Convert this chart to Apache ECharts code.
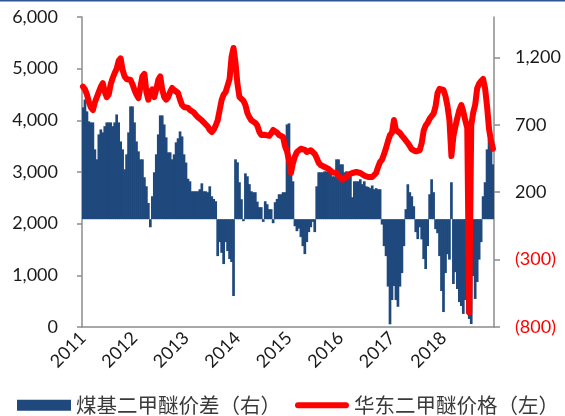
<!DOCTYPE html>
<html>
<head>
<meta charset="utf-8">
<script src="https://cdn.jsdelivr.net/npm/echarts@6/dist/echarts.min.js"></script>
<style>
  html, body { margin: 0; padding: 0; background: #fff; }
  #chart { width: 565px; height: 416px; }
</style>
</head>
<body>
<div id="chart"></div>
<script>
// 年份（每年26个双周点）
const years = ['2011', '2012', '2013', '2014', '2015', '2016', '2017', '2018']
const perYear = 26

// 煤基二甲醚价差（右轴）
const spread = [
  830, 888, 800, 726, 718, 718, 518, 444, 629, 666, 644, 690, 718, 718, 718, 690, 718, 777, 718, 577, 518, 370, 481, 644, 837, 837,
  718, 577, 503, 444, 444, 311, 244, 120, -60, 170, 348, 481, 629, 770, 770, 703, 607, 496, 496, 444, 481, 570, 600, 651, 614, 481,
  420, 300, 281, 207, 207, 207, 207, 222, 266, 207, 207, 200, 244, 170, 150, 133, -274, -170, -250, -333, -170, -237, -296, -318, -570, 444,
  422, 274, 148, -15, 340, 318, 260, 207, 200, 200, 130, 89, 89, -20, 133, 111, 74, 74, -30, 126, 150, 185, 185, 200, 200, 703,
  711, 392, 281, -52, -89, -70, -133, -200, -259, -170, -96, -60, -20, -96, 244, 348, 348, 348, 355, 355, 355, 340, 318, 318, 444, 444,
  407, 407, 348, 355, 340, 355, 163, 281, 281, 281, 296, 260, 281, 244, 240, 230, 250, 222, 230, 222, 222, -40, -200, -274, -500, -780,
  -600, -496, -600, -650, -500, -400, -200, 74, 259, 200, 170, 96, -96, -148, -60, -150, -296, -370, -200, 185, 296, 200, -74, -104, -274, -533,
  -689, -400, -260, -300, 274, -481, -393, -518, -615, -644, -703, -600, -700, -740, -778, -422, -592, -466, -300, -170, 170, 274, 518, 592, 607, 407
]

// 华东二甲醚价格（左轴）
const price = [
  4650, 4600, 4500, 4350, 4250, 4200, 4350, 4450, 4550, 4650, 4720, 4550, 4450, 4500, 4700, 4819, 4916, 5000, 5150, 5200, 4974, 4850, 4800, 4800, 4781, 4700,
  4587, 4500, 4432, 4650, 4850, 4900, 4550, 4400, 4550, 4600, 4450, 4600, 4780, 4850, 4600, 4450, 4400, 4450, 4550, 4626, 4587, 4560, 4529, 4400, 4297, 4258,
  4258, 4240, 4200, 4200, 4150, 4103, 4060, 4045, 4000, 3968, 3920, 3880, 3813, 3774, 3820, 3900, 4000, 4200, 4394, 4500, 4548, 4530, 4800, 5226, 5400, 5110,
  4700, 4450, 4450, 4380, 4297, 4142, 4060, 4000, 3968, 3950, 3900, 3780, 3716, 3716, 3720, 3716, 3700, 3750, 3813, 3790, 3760, 3716, 3700, 3677, 3500, 3400,
  3232, 2981, 3174, 3300, 3387, 3420, 3450, 3484, 3430, 3387, 3400, 3420, 3387, 3350, 3270, 3180, 3135, 3097, 3097, 3097, 3060, 3039, 2990, 2981, 2981, 2920,
  2884, 2850, 2870, 2903, 2950, 2981, 2981, 2990, 3000, 2990, 2981, 2950, 2930, 2903, 2903, 2903, 2903, 2920, 2981, 3100, 3194, 3240, 3350, 3465, 3600, 3716,
  3760, 4006, 3813, 3780, 3755, 3700, 3658, 3620, 3560, 3500, 3440, 3420, 3400, 3400, 3420, 3560, 3800, 3900, 3950, 4030, 4080, 4130, 4270, 4530, 4610, 4626,
  4590, 4470, 4280, 4006, 3310, 3690, 3880, 4050, 4200, 4297, 4170, 4000, 3850, 280, 3900, 4150, 4300, 4620, 4710, 4760, 4800, 4620, 4270, 3830, 3600, 3450
]

const leftTicks = [0, 1000, 2000, 3000, 4000, 5000, 6000]
const rightTicks = [-800, -300, 200, 700, 1200]

const seriesNames = ['煤基二甲醚价差（右）', '华东二甲醚价格（左）']

const categories = []
years.forEach(y => {
  for (let k = 0; k < perYear; k++) categories.push(y + '-' + k)
})

const myChart = echarts.init(document.getElementById('chart'))
const axisGray = '#8c8c8c'
const font = 'Lato, "Noto Sans", sans-serif'

myChart.setOption({
  animation: false,
  graphic: [{
    type: 'rect',
    shape: { x: 0, y: 0, width: 565, height: 1.5 },
    style: { fill: '#2f5597' }
  }],
  grid: {
    left: 82,
    right: 71,
    top: 17,
    bottom: 89
  },
  legend: {
    left: 17,
    top: 395,
    width: 548,
    padding: 0,
    itemWidth: 54,
    itemHeight: 11,
    itemGap: 14,
    itemTextGap: 6,
    textStyle: {
      fontSize: 20.5,
      color: '#3a3a3a',
      fontFamily: '"Noto Sans CJK SC", sans-serif'
    },
    data: [
      { name: seriesNames[0], icon: 'rect' },
      // 圆头粗线图例
      { name: seriesNames[1], icon: 'path://M3,0 L51,0 A3,3 0 0 1 51,6 L3,6 A3,3 0 0 1 3,0 Z' }
    ]
  },
  xAxis: {
    type: 'category',
    data: categories,
    boundaryGap: true,
    axisLine: { onZero: false, lineStyle: { color: axisGray, width: 1.5 } },
    axisTick: { interval: 12, length: 5, lineStyle: { color: axisGray, width: 1.5 } },
    axisLabel: {
      interval: perYear - 1,
      rotate: 45,
      margin: 8,
      fontSize: 18,
      color: '#1a1a1a',
      fontFamily: font,
      formatter: v => v.slice(0, 4)
    },
    splitLine: { show: false }
  },
  yAxis: [
    {
      type: 'value',
      min: leftTicks[0],
      max: leftTicks[leftTicks.length - 1],
      interval: 1000,
      axisLine: { show: true, lineStyle: { color: axisGray, width: 1.5 } },
      axisTick: { show: true, length: 5, lineStyle: { color: axisGray, width: 1.5 } },
      axisLabel: {
        margin: 24,
        fontSize: 18,
        color: '#1a1a1a',
        fontFamily: font,
        formatter: v => echarts.format.addCommas(v)
      },
      splitLine: { show: false }
    },
    {
      type: 'value',
      position: 'right',
      min: -800,
      max: 1500,
      interval: 500,
      axisLine: { show: true, lineStyle: { color: axisGray, width: 1.5 } },
      axisTick: { show: true, length: 6, customValues: rightTicks, lineStyle: { color: axisGray, width: 1.5 } },
      axisLabel: {
        margin: 21,
        fontSize: 18,
        fontFamily: font,
        customValues: rightTicks,
        color: v => (v < 0 ? '#ff0000' : '#1a1a1a'),
        formatter: v => (v < 0 ? '(' + echarts.format.addCommas(-v) + ')' : echarts.format.addCommas(v))
      },
      splitLine: { show: false }
    }
  ],
  series: [
    {
      name: seriesNames[0],
      type: 'bar',
      yAxisIndex: 1,
      barWidth: 2.7,
      itemStyle: { color: '#1f497d' },
      data: spread
    },
    {
      name: seriesNames[1],
      type: 'line',
      yAxisIndex: 0,
      symbol: 'none',
      lineStyle: { color: '#ff0000', width: 6, cap: 'round', join: 'round' },
      itemStyle: { color: '#ff0000' },
      data: price
    }
  ]
})
</script>
</body>
</html>
